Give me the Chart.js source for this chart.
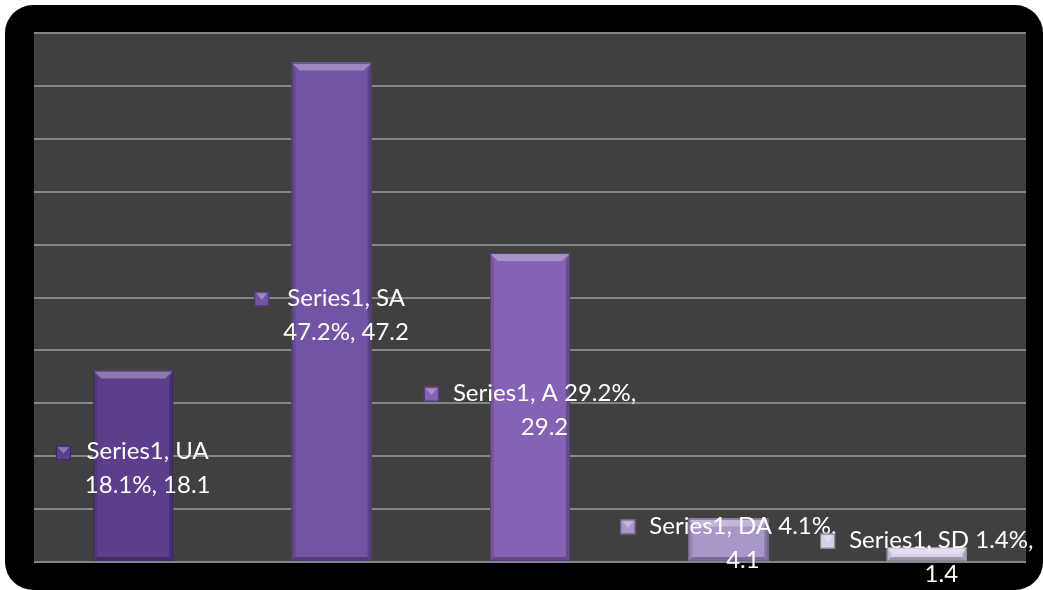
<!DOCTYPE html>
<html>
<head>
<meta charset="utf-8">
<script src="https://cdn.jsdelivr.net/npm/chart.js@4"></script>
<style>
  html, body { margin: 0; padding: 0; background: #fff; overflow: hidden; }
  #wrap { position: relative; width: 1043px; height: 590px; overflow: hidden; }
  #frame { position: absolute; left: 5px; top: 5px; width: 1038px; height: 585px; background: #000; border-radius: 28px; }
  #chart { position: absolute; left: 0; top: 0; }
</style>
</head>
<body>
<div id="wrap">
  <div id="frame"></div>
  <canvas id="chart" width="1043" height="590"></canvas>
</div>
<script>
// Survey response shares
const seriesName = 'Series1';
const categories = ['UA', 'SA', 'A', 'DA', 'SD'];
const values = [18.1, 47.2, 29.2, 4.1, 1.4];
const barColors = ['#5b3f8c', '#7254a5', '#8462b5', '#a898c9', '#d8d0e8'];
const yMax = 50;
const yStep = 5;

function mix(hex, target, amount) {
  const n = parseInt(hex.slice(1), 16);
  const r = (n >> 16) & 255, g = (n >> 8) & 255, b = n & 255;
  const t = target === 'white' ? 255 : 0;
  const m = (c) => Math.round(c + (t - c) * amount);
  return `rgb(${m(r)}, ${m(g)}, ${m(b)})`;
}

// dark plot background behind the grid
const plotBackground = {
  id: 'plotBackground',
  beforeDraw(chart) {
    const { ctx, chartArea: a } = chart;
    ctx.save();
    ctx.fillStyle = '#404040';
    ctx.fillRect(a.left, a.top, a.right - a.left, a.bottom - a.top);
    ctx.restore();
  }
};

function bevel(ctx, left, top, right, bottom, color) {
  const h = bottom - top;
  const bev = Math.min(8, h / 2);
  const side = Math.min(4, h / 2);
  ctx.save();
  // top face
  ctx.fillStyle = mix(color, 'white', 0.3);
  ctx.beginPath();
  ctx.moveTo(left, top); ctx.lineTo(right, top);
  ctx.lineTo(right - bev, top + bev); ctx.lineTo(left + bev, top + bev);
  ctx.closePath(); ctx.fill();
  // left face
  ctx.fillStyle = mix(color, 'black', 0.12);
  ctx.beginPath();
  ctx.moveTo(left, top); ctx.lineTo(left + side, top + bev);
  ctx.lineTo(left + side, bottom - side); ctx.lineTo(left, bottom);
  ctx.closePath(); ctx.fill();
  // right face
  ctx.fillStyle = mix(color, 'black', 0.22);
  ctx.beginPath();
  ctx.moveTo(right, top); ctx.lineTo(right - side, top + bev);
  ctx.lineTo(right - side, bottom - side); ctx.lineTo(right, bottom);
  ctx.closePath(); ctx.fill();
  // bottom face
  ctx.fillStyle = mix(color, 'black', 0.28);
  ctx.beginPath();
  ctx.moveTo(left, bottom); ctx.lineTo(left + side, bottom - side);
  ctx.lineTo(right - side, bottom - side); ctx.lineTo(right, bottom);
  ctx.closePath(); ctx.fill();
  ctx.strokeStyle = mix(color, 'black', 0.35);
  ctx.lineWidth = 1;
  ctx.strokeRect(left + 0.5, top + 0.5, right - left - 1, bottom - top - 1);
  ctx.restore();
}

function wrapWords(ctx, text, maxWidth) {
  const words = text.split(' ');
  const lines = [];
  let line = '';
  words.forEach((w) => {
    const test = line ? line + ' ' + w : w;
    if (line && ctx.measureText(test).width > maxWidth) {
      lines.push(line);
      line = w;
    } else {
      line = test;
    }
  });
  if (line) lines.push(line);
  return lines;
}

// bevelled bars plus centred data labels with a small colour key
const barDecor = {
  id: 'barDecor',
  afterDatasetsDraw(chart) {
    const { ctx } = chart;
    const meta = chart.getDatasetMeta(0);
    meta.data.forEach((bar, i) => {
      const p = bar.getProps(['x', 'y', 'base', 'width'], true);
      bevel(ctx, p.x - p.width / 2, p.y, p.x + p.width / 2, p.base, barColors[i]);
    });

    ctx.save();
    ctx.font = '24px Lato';
    ctx.fillStyle = '#ffffff';
    ctx.textAlign = 'center';
    ctx.textBaseline = 'middle';
    const lineH = 34;
    const key = 15;
    const gap = 14;
    meta.data.forEach((bar, i) => {
      const p = bar.getProps(['x', 'y', 'base'], true);
      const text = `${seriesName}, ${categories[i]} ${values[i].toFixed(1)}%, ${values[i]}`;
      const lines = wrapWords(ctx, text, 190);
      const textW = Math.max(...lines.map((l) => ctx.measureText(l).width));
      const blockW = key + gap + textW;
      const left = p.x - blockW / 2;
      const midY = (p.y + p.base) / 2 + 3;
      const firstY = midY - (lines.length - 1) * lineH / 2;
      const textX = left + key + gap + textW / 2;
      lines.forEach((l, k) => ctx.fillText(l, textX, firstY + k * lineH));
      const ky = firstY - key / 2 + 1;
      ctx.fillStyle = barColors[i];
      ctx.fillRect(left, ky, key, key);
      ctx.fillStyle = mix(barColors[i], 'white', 0.3);
      ctx.beginPath();
      ctx.moveTo(left + 2, ky + 2); ctx.lineTo(left + key - 2, ky + 2);
      ctx.lineTo(left + key / 2, ky + key / 2 + 1);
      ctx.closePath(); ctx.fill();
      ctx.strokeStyle = mix(barColors[i], 'black', 0.4);
      ctx.strokeRect(left + 0.5, ky + 0.5, key - 1, key - 1);
      ctx.fillStyle = '#ffffff';
    });
    ctx.restore();
  }
};

new Chart(document.getElementById('chart'), {
  type: 'bar',
  data: {
    labels: categories,
    datasets: [{
      label: seriesName,
      data: values,
      backgroundColor: barColors,
      borderWidth: 0,
      categoryPercentage: 1,
      barPercentage: 0.403
    }]
  },
  options: {
    responsive: false,
    animation: false,
    layout: { padding: { left: 34, top: 33, right: 17, bottom: 28 } },
    plugins: {
      legend: { display: false },
      tooltip: { enabled: false }
    },
    scales: {
      x: { display: false },
      y: {
        min: 0,
        max: yMax,
        ticks: { display: false, stepSize: yStep },
        grid: { color: '#858585', lineWidth: 2, drawTicks: false },
        border: { display: false }
      }
    }
  },
  plugins: [plotBackground, barDecor]
});
</script>
</body>
</html>
